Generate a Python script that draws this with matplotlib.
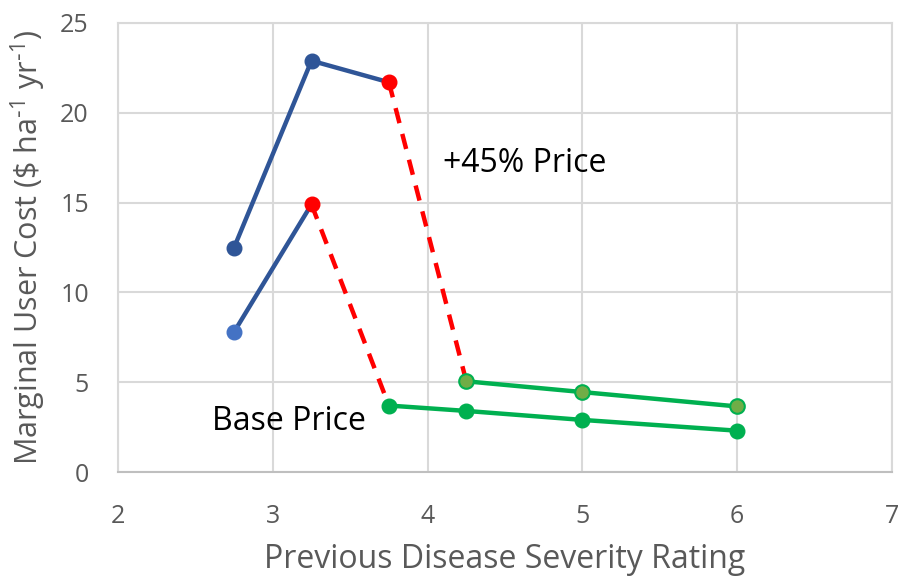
import numpy as np
import matplotlib.pyplot as plt

# data
x_low = [2.75, 3.25]
base_low = [7.8, 14.9]
high_low = [12.5, 22.9, 21.7]
x_high_low = [2.75, 3.25, 3.75]

x_base_drop = [3.25, 3.75]
base_drop = [14.9, 3.7]
x_high_drop = [3.75, 4.25]
high_drop = [21.7, 5.05]

x_base_green = [3.75, 4.25, 5.0, 6.0]
base_green = [3.7, 3.4, 2.9, 2.3]
x_high_green = [4.25, 5.0, 6.0]
high_green = [5.05, 4.45, 3.65]

plt.rcParams['font.family'] = ['Open Sans', 'DejaVu Sans']
plt.rcParams['mathtext.default'] = 'regular'

fig = plt.figure(figsize=(8.98, 5.81), dpi=100)
ax = fig.add_axes([118/898, 1-472/581, (892-118)/898, (472-23)/581])

blue = '#2F5597'
red = '#FF0000'
green = '#00B050'

# dashed red drops
ax.plot(x_base_drop, base_drop, color=red, lw=3.2, ls=(0, (3.5, 2.5)), zorder=2)
ax.plot(x_high_drop, high_drop, color=red, lw=3.2, ls=(0, (3.5, 2.5)), zorder=2)

# blue segments
ax.plot(x_high_low, high_low, color=blue, lw=3.2, zorder=3)
ax.plot(x_low, base_low, color=blue, lw=3.2, zorder=3)

# green segments
ax.plot(x_base_green, base_green, color=green, lw=3.2, marker='o', ms=10.5, mfc=green, mec=green, zorder=3)
ax.plot(x_high_green, high_green, color=green, lw=3.2, marker='o', ms=10.5, mfc='#70AD47', mec=green, mew=1.5, zorder=3)

# markers
ax.plot(x_high_low[:2], high_low[:2], ls='none', marker='o', ms=10.5, color=blue, zorder=4)
ax.plot(x_high_low[2], high_low[2], ls='none', marker='o', ms=10.5, color=red, zorder=4)
ax.plot(x_low[0], base_low[0], ls='none', marker='o', ms=10.5, color='#4472C4', zorder=4)
ax.plot(x_low[1], base_low[1], ls='none', marker='o', ms=10.5, color=red, zorder=4)

ax.text(4.1, 17.2, '+45% Price', fontsize=23, va='center', ha='left', color='black')
ax.text(2.61, 2.8, 'Base Price', fontsize=23, va='center', ha='left', color='black')

ax.set_xlim(2, 7)
ax.set_ylim(0, 25)
ax.set_xticks(np.arange(2, 8, 1))
ax.set_yticks(np.arange(0, 30, 5))
ax.grid(True, color='#D9D9D9', lw=1.5)
ax.set_axisbelow(True)
for s in ax.spines.values():
    s.set_color('#D9D9D9')
    s.set_linewidth(1.5)
ax.spines['bottom'].set_color('#BFBFBF')
ax.tick_params(length=0, labelsize=18, colors='#595959')
ax.tick_params(axis='x', pad=23)
ax.tick_params(axis='y', pad=21)

ax.set_xlabel('Previous Disease Severity Rating', fontsize=23, color='#595959', labelpad=10)
ax.set_ylabel(r'Marginal User Cost (\$ ha$^{\text{-}1}$ yr$^{\text{-}1}$)', fontsize=22, color='#595959', labelpad=9)

plt.savefig('out.png', dpi=100)
